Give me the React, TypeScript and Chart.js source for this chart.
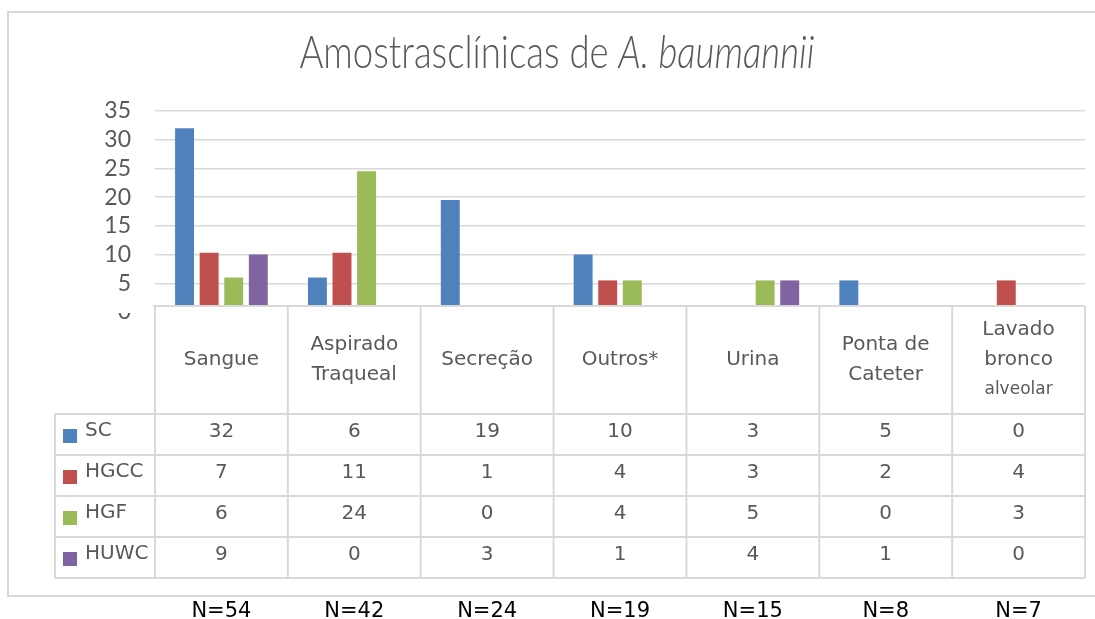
import React, { useEffect, useRef } from "react";
import { Chart, registerables } from "chart.js";

Chart.register(...registerables);

// ---------- data ----------
const categories: string[][] = [
  ["Sangue"],
  ["Aspirado", "Traqueal"],
  ["Secreção"],
  ["Outros*"],
  ["Urina"],
  ["Ponta de", "Cateter"],
  ["Lavado", "bronco", "alveolar"],
];
const seriesNames = ["SC", "HGCC", "HGF", "HUWC"];
const seriesColors = ["#4F81BD", "#C0504D", "#9BBB59", "#8064A2"];

// bar heights as drawn in the picture
const barSC = [32, 6, 19.5, 10, 0, 5.5, 0];
const barHGCC = [10.3, 10.3, 0, 5.5, 0, 0, 5.5];
const barHGF = [6, 24.5, 0, 5.5, 5.5, 0, 0];
const barHUWC = [10, 0, 0, 0, 5.5, 0, 0];

// values printed in the data table
const tableSC = [32, 6, 19, 10, 3, 5, 0];
const tableHGCC = [7, 11, 1, 4, 3, 2, 4];
const tableHGF = [6, 24, 0, 4, 5, 0, 3];
const tableHUWC = [9, 0, 3, 1, 4, 1, 0];

const nLabels = ["N=54", "N=42", "N=24", "N=19", "N=15", "N=8", "N=7"];

const yMin = 0;
const yMax = 35;
const yStep = 5;

const titlePlain = "Amostrasclínicas de ";
const titleItalic = "A. baumannii";

// ---------- styles ----------
const TEXT = "#595959";
const GRID = "#D9D9D9";
const TABLE_FONT = "DejaVu Sans";

const decorPlugin = {
  id: "decor",
  beforeDraw(chart: any) {
    const ctx = chart.ctx;
    const W = chart.width;
    ctx.save();
    ctx.fillStyle = "#ffffff";
    ctx.fillRect(0, 0, W, chart.height);
    // outer chart border (top, left, bottom)
    ctx.strokeStyle = GRID;
    ctx.lineWidth = 2;
    ctx.beginPath();
    ctx.moveTo(W, 12);
    ctx.lineTo(8, 12);
    ctx.lineTo(8, 596);
    ctx.lineTo(W, 596);
    ctx.stroke();

    // title with italic species name, condensed
    const targetW = 515;
    const cx = 557;
    ctx.fillStyle = TEXT;
    ctx.textBaseline = "alphabetic";
    ctx.textAlign = "left";
    const fPlain = "300 46px Lato";
    const fItal = "italic 300 46px Lato";
    ctx.font = fPlain;
    const w1 = ctx.measureText(titlePlain).width;
    ctx.font = fItal;
    const w2 = ctx.measureText(titleItalic).width;
    const sx = targetW / (w1 + w2);
    ctx.translate(cx - targetW / 2, 68);
    ctx.scale(sx, 1);
    ctx.font = fPlain;
    ctx.fillText(titlePlain, 0, 0);
    ctx.font = fItal;
    ctx.fillText(titleItalic, w1, 0);
    ctx.restore();
  },
  afterDraw(chart: any) {
    const ctx = chart.ctx;
    const area = chart.chartArea;
    const xs = chart.scales.x;
    const n = categories.length;
    const left = area.left;
    const right = area.right;
    const colW = (right - left) / n;
    const top = area.bottom - 6;
    const headBottom = top + 108;
    const rowH = 41;
    const tableVals = [tableSC, tableHGCC, tableHGF, tableHUWC];
    const tableBottom = headBottom + rowH * tableVals.length;
    const legendLeft = 55;

    ctx.save();
    // cover bar bases / zero label like the data table overlap
    ctx.fillStyle = "#ffffff";
    ctx.fillRect(left, top, right - left, tableBottom - top);
    ctx.fillRect(90, top - 6, left - 92, 13);

    ctx.strokeStyle = GRID;
    ctx.lineWidth = 2;
    ctx.beginPath();
    // axis line
    ctx.moveTo(left - 2, top);
    ctx.lineTo(right, top);
    // vertical column lines
    for (let i = 0; i <= n; i++) {
      const x = left + i * colW;
      ctx.moveTo(x, top);
      ctx.lineTo(x, tableBottom);
    }
    // row lines
    for (let r = 0; r <= tableVals.length; r++) {
      const y = headBottom + r * rowH;
      ctx.moveTo(legendLeft, y);
      ctx.lineTo(right, y);
    }
    ctx.moveTo(legendLeft, headBottom);
    ctx.lineTo(legendLeft, tableBottom);
    ctx.stroke();

    // header category labels
    ctx.fillStyle = TEXT;
    ctx.textAlign = "center";
    ctx.textBaseline = "middle";
    const headMid = (top + headBottom) / 2;
    for (let i = 0; i < n; i++) {
      const cx = xs.getPixelForValue(i);
      const lines = categories[i];
      const lh = 30;
      const y0 = headMid - ((lines.length - 1) * lh) / 2;
      lines.forEach((ln, k) => {
        const small = lines.length > 2 && k === lines.length - 1;
        ctx.font = `${small ? 17 : 20}px ${TABLE_FONT}`;
        ctx.fillText(ln, cx, y0 + k * lh);
      });
    }

    // data rows
    for (let r = 0; r < tableVals.length; r++) {
      const rowTop = headBottom + r * rowH;
      ctx.fillStyle = seriesColors[r];
      ctx.fillRect(63, rowTop + 15, 14, 14);
      ctx.fillStyle = TEXT;
      ctx.font = `20px ${TABLE_FONT}`;
      ctx.textAlign = "left";
      ctx.textBaseline = "alphabetic";
      ctx.fillText(seriesNames[r], 85, rowTop + 22);
      ctx.textAlign = "center";
      ctx.textBaseline = "middle";
      for (let i = 0; i < n; i++) {
        ctx.fillText(String(tableVals[r][i]), xs.getPixelForValue(i), rowTop + 18);
      }
    }

    // N labels below chart
    ctx.fillStyle = "#000000";
    ctx.font = `21px ${TABLE_FONT}`;
    ctx.textAlign = "center";
    ctx.textBaseline = "alphabetic";
    for (let i = 0; i < n; i++) {
      ctx.fillText(nLabels[i], xs.getPixelForValue(i), 617);
    }
    ctx.restore();
  },
};

export default function App() {
  const ref = useRef<HTMLCanvasElement | null>(null);
  useEffect(() => {
    if (!ref.current) return;
    const seriesBars = [barSC, barHGCC, barHGF, barHUWC];
    const chart = new Chart(ref.current, {
      type: "bar",
      data: {
        labels: categories.map((c) => c.join(" ")),
        datasets: seriesNames.map((name, i) => ({
          label: name,
          data: seriesBars[i],
          backgroundColor: seriesColors[i],
          borderWidth: 0,
          categoryPercentage: 0.74,
          barPercentage: 0.77,
        })),
      },
      options: {
        responsive: false,
        animation: false,
        layout: { padding: { left: 0, right: 10, top: 111, bottom: 307 } },
        plugins: {
          legend: { display: false },
          title: { display: false },
          tooltip: { enabled: false },
        },
        scales: {
          x: { display: false },
          y: {
            min: yMin,
            max: yMax,
            afterFit: (scale: any) => {
              scale.width = 155;
            },
            ticks: {
              stepSize: yStep,
              autoSkip: false,
              padding: 24,
              color: TEXT,
              font: { family: "Lato", size: 23 },
            },
            grid: { color: GRID, lineWidth: 1.5, drawTicks: false },
            border: { display: false },
          },
        },
      },
      plugins: [decorPlugin],
    });
    return () => chart.destroy();
  }, []);
  return (
    <div style={{ position: "absolute", left: 0, top: 0, width: 1095, height: 619 }}>
      <canvas ref={ref} width={1095} height={619} style={{ display: "block" }} />
    </div>
  );
}
